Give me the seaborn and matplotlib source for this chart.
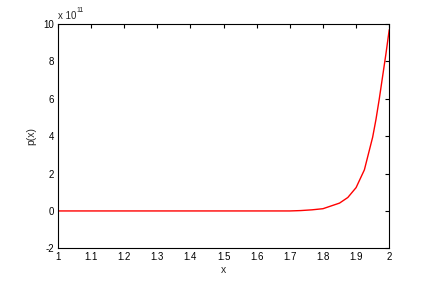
import matplotlib
matplotlib.use("Agg")
import matplotlib.pyplot as plt
import seaborn as sns
import pandas as pd

# data (y in units of 1e11)
x_vals = [1.0, 1.1, 1.2, 1.3, 1.4, 1.5, 1.6, 1.7, 1.733, 1.767, 1.8, 1.825,
          1.85, 1.875, 1.9, 1.925, 1.95, 1.96, 1.97, 1.98, 1.99, 2.0]
p_vals = [0.0, 0.0, 0.0, 0.0, 0.0, 0.0, 0.0, 0.0, 0.02, 0.06, 0.12, 0.27,
          0.42, 0.72, 1.25, 2.2, 3.95, 4.9, 6.0, 7.2, 8.4, 9.7]
x_ticks = [1.0, 1.1, 1.2, 1.3, 1.4, 1.5, 1.6, 1.7, 1.8, 1.9, 2.0]
x_tick_labels = ["1", "1.1", "1.2", "1.3", "1.4", "1.5", "1.6", "1.7", "1.8", "1.9", "2"]
y_ticks = [-2, 0, 2, 4, 6, 8, 10]

sns.set_style("white")
plt.rcParams['font.family'] = ['Liberation Sans', 'DejaVu Sans']

df = pd.DataFrame({"x": x_vals, "p": p_vals})

fig = plt.figure(figsize=(4.32, 2.81), dpi=100)
fig.patch.set_facecolor("white")
ax = fig.add_axes([0.134, 0.1163, 0.767, 0.798])
sns.lineplot(data=df, x="x", y="p", color="red", linewidth=1.0, ax=ax, estimator=None, sort=False)

ax.set_xlim(1, 2)
ax.set_ylim(-2, 10)
ax.set_xticks(x_ticks)
ax.set_xticklabels(x_tick_labels)
ax.set_yticks(y_ticks)
ax.set_yticklabels([str(v) for v in y_ticks])
ax.tick_params(direction="in", length=3, width=0.8, top=True, right=True,
               labelsize=7, colors="black", pad=3)
for s in ax.spines.values():
    s.set_color("black")
    s.set_linewidth(0.8)
    s.set_visible(True)

ax.set_xlabel("x", fontsize=7.5, labelpad=2)
ax.set_ylabel("p(x)", fontsize=7.5, labelpad=5)
ax.text(0.0, 1.012, r"x 10", transform=ax.transAxes, fontsize=7,
        ha="left", va="bottom")
ax.text(0.056, 1.045, "11", transform=ax.transAxes, fontsize=5,
        ha="left", va="bottom")

fig.savefig("out.png", dpi=100, facecolor="white")
